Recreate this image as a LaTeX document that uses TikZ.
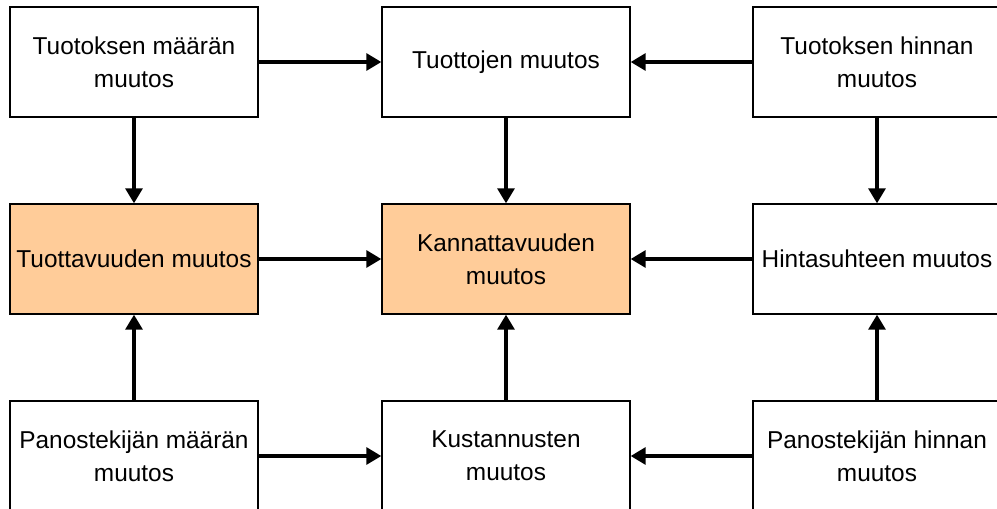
\documentclass[tikz,border=0pt]{standalone}
\usepackage{fontspec}
\setmainfont{Liberation Sans}
\usetikzlibrary{arrows.meta}
\definecolor{peach}{HTML}{FFCC99}
\tikzset{
	box/.style={draw, line width=0.7pt, minimum width=124pt, minimum height=55pt,
		align=center, inner sep=0pt, font=\fontsize{12.2}{16.5}\selectfont},
	oranssi/.style={box, fill=peach},
	arr/.style={line width=1.6pt, -{Triangle[length=7.5pt,width=8.5pt]}},
}

\begin{document}
\begin{tikzpicture}[x=0.5pt,y=-0.5pt]
	\useasboundingbox (0,0) rectangle (997,509);
	\clip (0,0) rectangle (997,509);

	\node [box] (tmaara) at (134,62) {Tuotoksen määrän\\muutos};
	\node [box] (tuotot) at (506,62) {Tuottojen muutos};
	\node [box] (thinta) at (877,62) {Tuotoksen hinnan\\muutos};

	\node [oranssi] (tuott) at (134,259) {Tuottavuuden muutos};
	\node [oranssi] (kann) at (506,259) {Kannattavuuden\\muutos};
	\node [box] (hsuhde) at (877,259) {Hintasuhteen muutos};

	\node [box] (pmaara) at (134,456) {Panostekijän määrän\\muutos};
	\node [box] (kust) at (506,456) {Kustannusten\\muutos};
	\node [box] (phinta) at (877,456) {Panostekijän hinnan\\muutos};

	\draw [arr] (tmaara) -- (tuotot);
	\draw [arr] (thinta) -- (tuotot);
	\draw [arr] (tuott) -- (kann);
	\draw [arr] (hsuhde) -- (kann);
	\draw [arr] (pmaara) -- (kust);
	\draw [arr] (phinta) -- (kust);

	\draw [arr] (tmaara) -- (tuott);
	\draw [arr] (pmaara) -- (tuott);
	\draw [arr] (tuotot) -- (kann);
	\draw [arr] (kust) -- (kann);
	\draw [arr] (thinta) -- (hsuhde);
	\draw [arr] (phinta) -- (hsuhde);
\end{tikzpicture}
\end{document}
